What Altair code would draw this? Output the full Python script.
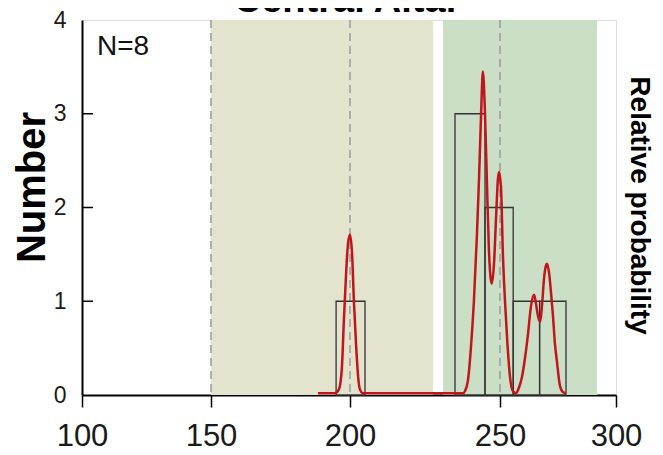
import altair as alt
import pandas as pd

# ---- data ----
x_ticks = [100, 150, 200, 250, 300]
y_ticks = [0, 1, 2, 3, 4]
inner_ticks = [1, 2, 3]

band_start = [150, 231]
band_end = [227.7, 290.5]
band_colors = ["#e4e3cd", "#cbdfc6"]

guide_x = [150, 200, 250]

bin_start = [195, 235, 245, 255, 265]
bin_end = [205, 245, 255, 265, 275]
bin_count = [1, 3, 2, 1, 1]

curve_x = [188.5, 194.6, 196.0, 197.1, 197.8, 198.6, 199.3, 200.0, 200.7, 201.3,
           202.0, 202.7, 203.3, 204.3, 215.0, 228.0, 237.7, 238.3, 239.3, 240.3,
           241.3, 242.3, 243.0, 243.7, 244.3, 245.0, 245.7, 246.3, 247.0, 247.3,
           248.0, 248.7, 249.3, 249.7, 250.4, 251.1, 251.9, 252.7, 253.8, 254.9,
           256.1, 257.2, 258.3, 259.5, 260.6, 261.7, 262.9, 263.6, 264.4, 265.2,
           265.9, 266.7, 267.4, 267.8, 268.6, 269.3, 270.1, 270.8, 271.6, 272.7,
           273.9, 275.0]
curve_y = [0.02, 0.02, 0.06, 0.3, 0.8, 1.3, 1.62, 1.71, 1.5, 1.0,
           0.55, 0.2, 0.06, 0.02, 0.02, 0.02, 0.02, 0.04, 0.15, 0.5,
           1.0, 1.7, 2.3, 3.0, 3.45, 3.0, 2.2, 1.55, 1.22, 1.19,
           1.4, 1.9, 2.3, 2.38, 2.2, 1.5, 1.0, 0.6, 0.19, 0.04,
           0.02, 0.08, 0.19, 0.4, 0.65, 0.94, 1.07, 0.98, 0.84, 0.78,
           0.95, 1.25, 1.38, 1.40, 1.3, 1.1, 0.83, 0.55, 0.35, 0.1,
           0.03, 0.02]

W, H = 534, 375
FONT = "Liberation Sans"

xscale = alt.Scale(domain=[100, 150, 200, 250, 275, 300],
                   range=[0, 129, 268, 418, 484, 534])
yscale = alt.Scale(domain=[0, 4], nice=False, zero=False)

bands = pd.DataFrame({"start": band_start, "end": band_end, "color": band_colors})
guides = pd.DataFrame({"x": guide_x})
bins = pd.DataFrame({"start": bin_start, "end": bin_end, "count": bin_count})
curve = pd.DataFrame({"x": curve_x, "y": curve_y})
yt = pd.DataFrame({"y": inner_ticks})

band_layer = alt.Chart(bands).mark_rect().encode(
    x=alt.X("start:Q", scale=xscale, axis=alt.Axis(
        values=x_ticks, title=None, labelFontSize=31, labelFont=FONT,
        labelColor="#1a1a1a", tickSize=12, tickWidth=1.5, tickColor="black",
        domainColor="black", domainWidth=2, labelPadding=14, grid=False,
        labelFlush=False, labelOverlap=False)),
    x2="end:Q",
    y=alt.value(0),
    y2=alt.value(H),
    color=alt.Color("color:N", scale=None),
)

guide_layer = alt.Chart(guides).mark_rule(
    color="#9a9a9a", strokeWidth=1.5, strokeDash=[8, 5]
).encode(x=alt.X("x:Q", scale=xscale), y=alt.value(0), y2=alt.value(H))

bar_layer = alt.Chart(bins).mark_rect(
    fillOpacity=0, stroke="#333333", strokeWidth=1.3
).encode(
    x=alt.X("start:Q", scale=xscale),
    x2="end:Q",
    y=alt.Y("count:Q", scale=yscale, axis=alt.Axis(
        orient="left", values=y_ticks, title="Number", titleFontSize=40,
        titleFont=FONT, titleFontWeight="bold", titleColor="black",
        titleX=-50, titleY=167, titleAngle=-90, titleAlign="center",
        titleBaseline="middle", labelFontSize=23, labelFont=FONT,
        labelColor="#1a1a1a", ticks=False, labelPadding=16,
        domainColor="black", domainWidth=2, grid=False)),
    y2=alt.datum(0),
)

ytick_layer = alt.Chart(yt).mark_rule(color="black", strokeWidth=1.5).encode(
    y=alt.Y("y:Q", scale=yscale, axis=None),
    x=alt.value(0),
    x2=alt.value(11),
)

curve_layer = alt.Chart(curve).mark_line(
    color="#c1141b", strokeWidth=2.5, interpolate="monotone"
).encode(
    x=alt.X("x:Q", scale=xscale),
    y=alt.Y("y:Q", scale=yscale, axis=alt.Axis(
        orient="right", title="Relative probability", titleFontSize=28,
        titleFont=FONT, titleFontWeight="bold", titleColor="black",
        titleX=22, titleY=185, titleAngle=90, titleAlign="center",
        titleBaseline="middle", labels=False, ticks=False, domain=False,
        grid=False)),
)

n_text = alt.Chart(pd.DataFrame({"t": ["N=8"]})).mark_text(
    fontSize=28, font=FONT, align="left", baseline="middle", color="#111111"
).encode(x=alt.value(15), y=alt.value(27), text="t:N")

title_text = alt.Chart(pd.DataFrame({"t": ["Central Altai"]})).mark_text(
    fontSize=38, font=FONT, fontWeight="bold", align="center",
    baseline="alphabetic", color="black"
).encode(x=alt.value(263), y=alt.value(-8), text="t:N")

chart = alt.layer(
    band_layer, guide_layer, bar_layer, ytick_layer, curve_layer, n_text, title_text
).resolve_scale(y="independent").properties(
    width=W, height=H,
    autosize=alt.AutoSizeParams(type="none"),
    padding={"left": 74, "top": 12, "right": 39, "bottom": 60},
).configure_view(stroke="black", strokeWidth=2).configure(background="white")

chart.save("out.html", embed_options={"renderer": "svg", "actions": False})
